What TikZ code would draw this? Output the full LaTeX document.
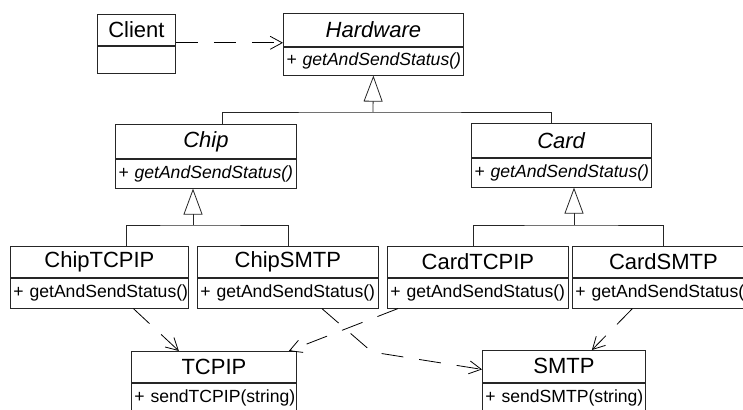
\documentclass[tikz,border=0pt]{standalone}
\usepackage{fontspec}
\setmainfont{Liberation Sans}
\usetikzlibrary{arrows.meta,positioning,calc}
\tikzset{
  cname/.style={draw=black!85, line width=0.8pt, anchor=north west, inner sep=0pt, minimum width=#1, font=\fontsize{22}{24}\selectfont},
  cop/.style={draw=black!85, line width=0.8pt, anchor=north, inner xsep=3pt, inner ysep=0pt, align=left, font=\fontsize{17.6}{20}\selectfont},
  gen/.style={-{Triangle[open,length=26pt,width=19pt]}, line width=0.8pt, draw=black!85},
  tree/.style={line width=0.8pt, draw=black!85},
  dep/.style={-{Straight Barb[length=12pt,width=13pt]}, line width=0.8pt, draw=black, dash pattern=on 22pt off 16pt}
}

\begin{document}
\begin{tikzpicture}[x=1pt, y=-1pt]
  \useasboundingbox (0,0) rectangle (743,409);

  % top row
  \node[cname=78pt, minimum height=31pt] (client) at (97,14) {Client};
  \node[cop, text width=72pt, minimum height=27pt] (client-op) at (client.south) {};
  \node[cname=180pt, minimum height=33pt] (hardware) at (283,13) {\textit{Hardware}};
  \node[cop, text width=174pt, minimum height=28pt] (hardware-op) at (hardware.south) {\mbox{\textit{+ getAndSendStatus()}}};

  % abstract middle row
  \node[cname=181pt, minimum height=34pt] (chip) at (115,124) {\textit{Chip}};
  \node[cop, text width=175pt, minimum height=29pt] (chip-op) at (chip.south) {\mbox{\textit{+ getAndSendStatus()}}};
  \node[cname=180pt, minimum height=34pt] (card) at (471,123) {\textit{Card}};
  \node[cop, text width=174pt, minimum height=29pt] (card-op) at (card.south) {\mbox{\textit{+ getAndSendStatus()}}};

  % concrete classes
  \node[cname=178pt, minimum height=31pt] (chipTCPIP) at (10,246) {ChipTCPIP};
  \node[cop, text width=172pt, minimum height=30pt] (chipTCPIP-op) at (chipTCPIP.south) {\mbox{+ getAndSendStatus()}};
  \node[cname=181pt, minimum height=31pt] (chipSMTP) at (197,246) {ChipSMTP};
  \node[cop, text width=175pt, minimum height=30pt] (chipSMTP-op) at (chipSMTP.south) {\mbox{+ getAndSendStatus()}};
  \node[cname=181pt, minimum height=31pt] (cardTCPIP) at (387,246) {CardTCPIP};
  \node[cop, text width=175pt, minimum height=30pt] (cardTCPIP-op) at (cardTCPIP.south) {\mbox{+ getAndSendStatus()}};
  \node[cname=182pt, minimum height=31pt] (cardSMTP) at (572,246) {CardSMTP};
  \node[cop, text width=176pt, minimum height=30pt] (cardSMTP-op) at (cardSMTP.south) {\mbox{+ getAndSendStatus()}};

  % protocols
  \node[cname=165pt, minimum height=31pt] (tcpip) at (131,351) {TCPIP};
  \node[cop, text width=159pt, minimum height=30pt] (tcpip-op) at (tcpip.south) {\mbox{+ sendTCPIP(string)}};
  \node[cname=163pt, minimum height=32pt] (smtp) at (482,350) {SMTP};
  \node[cop, text width=157pt, minimum height=30pt] (smtp-op) at (smtp.south) {\mbox{+ sendSMTP(string)}};

  % generalisation
  \coordinate (hwBus) at (373,112);
  \coordinate (chipBus) at (193,225);
  \coordinate (cardBus) at (574,225);
  \draw[gen] (hwBus) -- (hardware-op.south);
  \draw[tree] ([xshift=16pt]chip.north) |- (hwBus) -| ([xshift=-10pt]card.north);
  \draw[gen] (chipBus) -- (chipBus |- chip-op.south);
  \draw[tree] ([xshift=27pt]chipTCPIP.north) |- (chipBus) -| (chipSMTP.north);
  \draw[gen] (cardBus) -- (cardBus |- card-op.south);
  \draw[tree] ([xshift=-5pt]cardTCPIP.north) |- (cardBus) -| (cardSMTP.north);

  % dependencies
  \coordinate (smtpBend) at (372,352);
  \draw[dep] ([yshift=3pt]client.south east) -- ([yshift=4pt]hardware.south west);
  \draw[dep] ([xshift=34pt]chipTCPIP-op.south) -- ([xshift=-35pt]tcpip.north);
  \draw[dep] ([xshift=34pt]chipSMTP-op.south) -- (smtpBend) -- ([yshift=-3pt]smtp.west);
  \draw[dep] ([xshift=-80pt]cardTCPIP-op.south) -- ([xshift=-8pt]tcpip.north east);
  \draw[dep] ([xshift=-31pt]cardSMTP-op.south) -- ([xshift=28pt]smtp.north);
\end{tikzpicture}
\end{document}
